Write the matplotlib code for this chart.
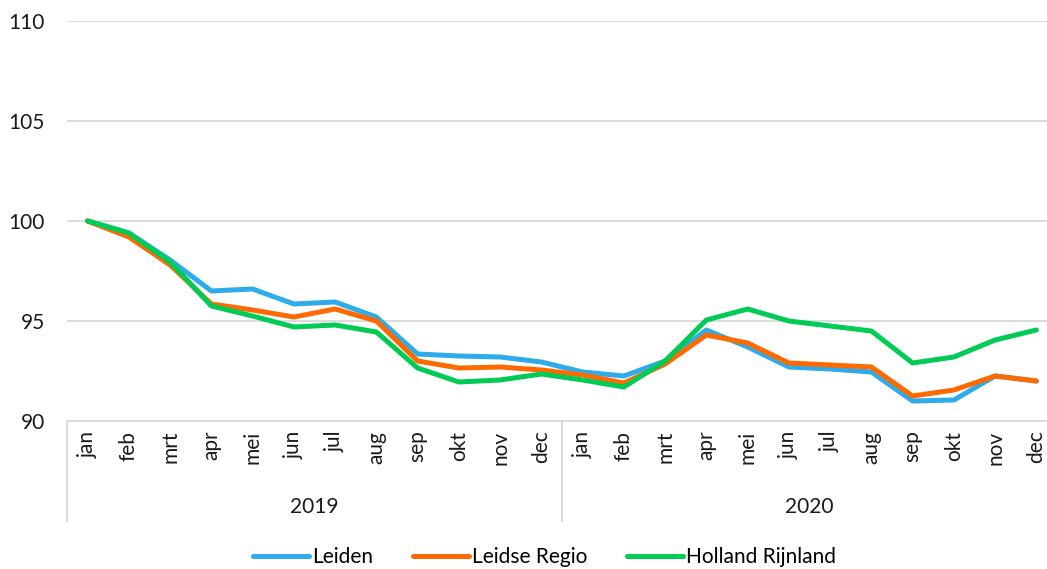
import numpy as np
import matplotlib
matplotlib.use('Agg')
import matplotlib.pyplot as plt
import matplotlib.transforms as mtransforms

plt.rcParams['font.family'] = ['Lato', 'DejaVu Sans']

months = ['jan', 'feb', 'mrt', 'apr', 'mei', 'jun', 'jul', 'aug', 'sep', 'okt', 'nov', 'dec']
years = ['2019', '2020']
month_labels = months * 2

leiden = [100.0, 99.4, 98.05, 96.5, 96.6, 95.85, 95.95, 95.2, 93.35, 93.25, 93.2, 92.95,
          92.45, 92.25, 93.0, 94.55, 93.7, 92.7, 92.6, 92.45, 91.0, 91.05, 92.25, 92.0]
leidse_regio = [100.0, 99.2, 97.8, 95.85, 95.55, 95.2, 95.6, 95.0, 93.0, 92.65, 92.7, 92.55,
                92.3, 91.9, 92.85, 94.3, 93.9, 92.9, 92.8, 92.7, 91.25, 91.55, 92.25, 92.0]
holland_rijnland = [100.0, 99.4, 97.95, 95.75, 95.25, 94.7, 94.8, 94.45, 92.65, 91.95, 92.05, 92.35,
                    92.05, 91.7, 93.0, 95.05, 95.6, 95.0, 94.75, 94.5, 92.9, 93.2, 94.05, 94.55]

series = [('Leiden', leiden, '#2EABEB'),
          ('Leidse Regio', leidse_regio, '#FF6A00'),
          ('Holland Rijnland', holland_rijnland, '#00CC55')]

W, H = 1047, 569
fig = plt.figure(figsize=(W / 100, H / 100), dpi=100)
# plot area runs slightly past the right edge of the picture, as in the source
ax = fig.add_axes([67 / W, (H - 421) / H, 990 / W, 400 / H])

x = np.arange(len(month_labels))
for name, vals, col in series:
    ax.plot(x, vals, color=col, lw=3.6, label=name, solid_joinstyle='round', solid_capstyle='round')

grid_col = '#D9D9D9'
txt_col = '#1a1a1a'
fs = 15
ax.set_ylim(90, 110)
ax.set_xlim(-0.5, len(month_labels) - 0.5)
ax.set_yticks([90, 95, 100, 105, 110])
ax.yaxis.grid(True, color=grid_col, lw=1.3)
ax.set_axisbelow(True)
for s in ['top', 'right', 'left']:
    ax.spines[s].set_visible(False)
ax.spines['bottom'].set_color(grid_col)
ax.spines['bottom'].set_linewidth(1.3)
ax.tick_params(axis='y', length=0, pad=16, labelsize=fs, labelcolor=txt_col)
ax.set_xticks(x)
ax.set_xticklabels(month_labels, rotation=90, fontsize=fs, color=txt_col)
ax.tick_params(axis='x', length=0, pad=7)

# category separators and year labels
trans = mtransforms.blended_transform_factory(ax.transData, ax.transAxes)
for sep in [-0.5, 11.5]:
    ax.plot([sep, sep], [0, -0.25], transform=trans, color=grid_col, lw=1.3, clip_on=False)
for i, yr in enumerate(years):
    ax.text(i * 12 + 5.5, -0.215, yr, transform=trans, ha='center', va='center',
            fontsize=fs, color=txt_col)

fig.legend(loc='center', bbox_to_anchor=(0.52, 12 / H), ncol=3, frameon=False,
           fontsize=fs, handlelength=2.7, handletextpad=0.15, columnspacing=1.9)

fig.savefig('out.png', dpi=100)
